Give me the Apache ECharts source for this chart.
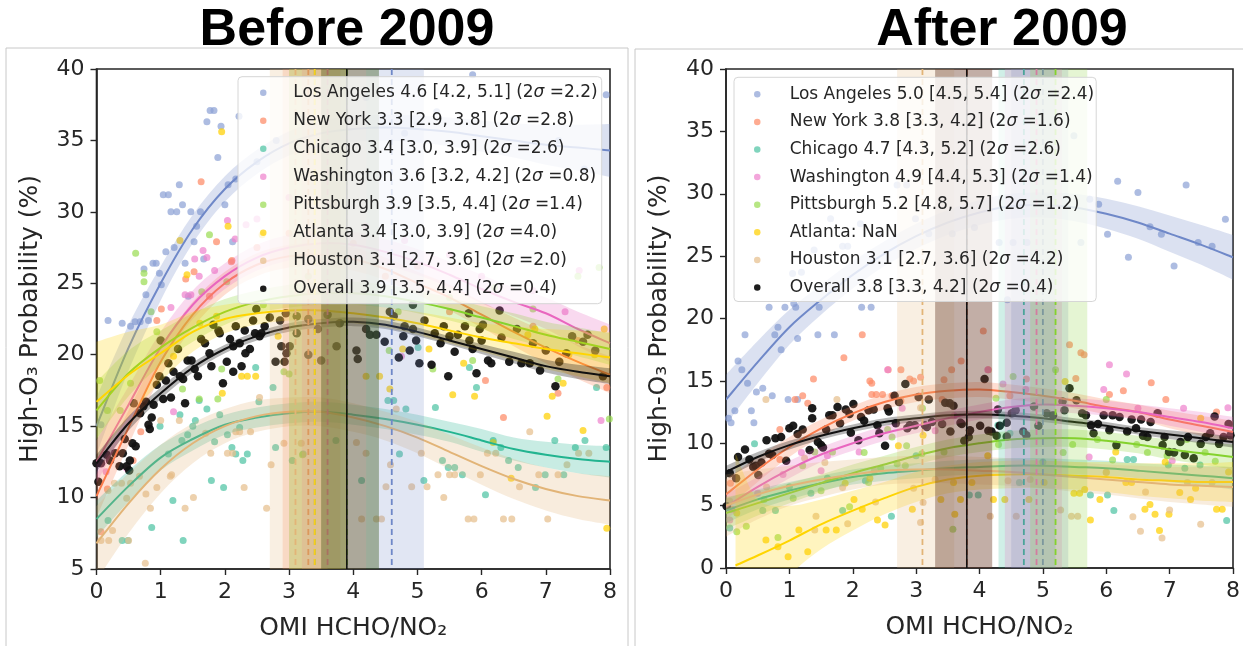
<!DOCTYPE html>
<html>
<head>
<meta charset="utf-8">
<script src="https://cdn.jsdelivr.net/npm/echarts@6/dist/echarts.min.js"></script>
<style>
  html, body { margin: 0; padding: 0; background: #fff; }
  #chart { width: 1243px; height: 646px; }
</style>
</head>
<body>
<div id="chart"></div>
<script>
// ---------- shared settings ----------
const CITIES = ['Los Angeles', 'New York', 'Chicago', 'Washington', 'Pittsburgh', 'Atlanta', 'Houston', 'Overall'];
const POINT_COLORS = ['#8ea2d6', '#fd8a66', '#4fc4a3', '#ee84cd', '#9bdc55', '#ffd000', '#e6bf8e', '#111111'];
const LINE_COLORS  = ['#6f88c8', '#fc7c4c', '#22b490', '#e966bf', '#84d22d', '#ffd500', '#e2b477', '#111111'];
const X_TICKS = [0, 1, 2, 3, 4, 5, 6, 7, 8];
const Y_TICKS_LEFT = [5, 10, 15, 20, 25, 30, 35, 40];
const Y_TICKS_RIGHT = [0, 5, 10, 15, 20, 25, 30, 35, 40];
const PANEL_TITLES = ['Before 2009', 'After 2009'];

// x positions of the fitted curves
const X_GRID = [0, 0.5, 1, 1.5, 2, 2.5, 3, 3.5, 4, 4.5, 5, 5.5, 6, 6.5, 7, 7.5, 8];
const X_GRID_ATL_R = [0.15, 0.5, 1, 1.5, 2, 2.5, 3, 3.5, 4, 4.5, 5, 5.5, 6, 6.5, 7, 7.5, 8];

// ---------- Before 2009: peak ratio, 95% range, 2 sigma ----------
const PEAK_L = [4.6, 3.3, 3.4, 3.6, 3.9, 3.4, 3.1, 3.9];
const LO_L   = [4.2, 2.9, 3.0, 3.2, 3.5, 3.0, 2.7, 3.5];
const HI_L   = [5.1, 3.8, 3.9, 4.2, 4.4, 3.9, 3.6, 4.4];
const SIG_L  = [2.2, 2.8, 2.6, 0.8, 1.4, 4.0, 2.0, 0.4];

// ---------- After 2009 ----------
const PEAK_R = [5.0, 3.8, 4.7, 4.9, 5.2, null, 3.1, 3.8];
const LO_R   = [4.5, 3.3, 4.3, 4.4, 4.8, null, 2.7, 3.3];
const HI_R   = [5.4, 4.2, 5.2, 5.3, 5.7, null, 3.6, 4.2];
const SIG_R  = [2.4, 1.6, 2.6, 1.4, 1.2, null, 4.2, 0.4];

// ---------- fitted curves (Before 2009) ----------
const LA_L_FIT = [15.0, 20.5, 25.0, 28.8, 31.6, 33.5, 34.8, 35.5, 35.8, 35.9, 35.8, 35.6, 35.3, 35.0, 34.7, 34.5, 34.3];
const NY_L_FIT = [10.1, 14.9, 19.5, 22.8, 25.0, 26.3, 26.9, 27.0, 26.7, 26.0, 25.0, 24.0, 22.8, 21.6, 20.5, 19.5, 18.6];
const CH_L_FIT = [8.5, 10.8, 12.8, 14.1, 15.1, 15.6, 15.9, 16.0, 15.8, 15.5, 15.1, 14.6, 14.0, 13.4, 13.0, 12.7, 12.5];
const WA_L_FIT = [12.5, 16.5, 20.5, 23.5, 25.5, 26.8, 27.5, 27.8, 27.7, 27.2, 26.5, 25.6, 24.6, 23.7, 22.9, 21.8, 20.8];
const PI_L_FIT = [16.1, 18.7, 20.5, 21.9, 23.0, 23.7, 24.1, 24.3, 24.3, 24.1, 23.7, 23.2, 22.6, 22.0, 21.4, 20.9, 20.4];
const AT_L_FIT = [16.7, 18.6, 20.1, 21.6, 22.5, 22.9, 23.1, 23.1, 22.9, 22.6, 22.2, 21.7, 21.2, 20.8, 20.4, 20.1, 19.8];
const HO_L_FIT = [6.8, 9.6, 12.0, 13.8, 15.0, 15.7, 16.0, 16.0, 15.6, 15.0, 14.2, 13.2, 12.2, 11.3, 10.6, 10.1, 9.8];
const OV_L_FIT = [12.4, 15.2, 17.3, 19.1, 20.4, 21.3, 21.9, 22.2, 22.3, 22.1, 21.6, 21.0, 20.4, 19.8, 19.2, 18.8, 18.5];

// half widths of the confidence bands (Before 2009)
const LA_L_CI = [2.0, 1.6, 1.2, 1.0, 0.9, 0.85, 0.85, 0.9, 0.9, 0.9, 0.95, 1.0, 1.1, 1.2, 1.4, 1.6, 1.85];
const NY_L_CI = [1.5, 1.2, 1.0, 0.9, 0.8, 0.8, 0.8, 0.8, 0.8, 0.8, 0.8, 0.9, 0.9, 1.0, 1.1, 1.2, 1.3];
const CH_L_CI = [1.3, 1.1, 0.9, 0.8, 0.7, 0.7, 0.7, 0.7, 0.7, 0.7, 0.7, 0.7, 0.8, 0.8, 0.9, 1.0, 1.1];
const WA_L_CI = [1.5, 1.3, 1.1, 1.0, 0.9, 0.9, 0.9, 0.9, 0.9, 0.9, 0.9, 0.9, 1.0, 1.0, 1.1, 1.2, 1.3];
const PI_L_CI = [2.0, 1.6, 1.2, 1.0, 0.9, 0.8, 0.8, 0.8, 0.8, 0.8, 0.8, 0.8, 0.8, 0.9, 0.9, 1.0, 1.1];
const AT_L_CI = [4.2, 3.0, 2.0, 1.4, 1.0, 0.8, 0.7, 0.7, 0.7, 0.7, 0.8, 0.9, 1.0, 1.2, 1.4, 1.6, 1.8];
const HO_L_CI = [2.6, 2.1, 1.7, 1.4, 1.2, 1.1, 1.0, 1.0, 1.0, 1.0, 1.1, 1.2, 1.3, 1.4, 1.5, 1.6, 1.7];
const OV_L_CI = [0.6, 0.5, 0.4, 0.35, 0.3, 0.3, 0.3, 0.3, 0.3, 0.3, 0.3, 0.3, 0.35, 0.4, 0.45, 0.5, 0.55];

// ---------- fitted curves (After 2009) ----------
const LA_R_FIT = [13.5, 16.5, 19.3, 21.5, 23.5, 25.2, 26.6, 27.7, 28.5, 29.0, 29.1, 28.9, 28.4, 27.7, 26.8, 25.9, 24.9];
const NY_R_FIT = [5.9, 7.9, 9.7, 11.2, 12.4, 13.3, 13.9, 14.2, 14.3, 14.1, 13.8, 13.4, 12.9, 12.5, 11.9, 11.4, 10.9];
const CH_R_FIT = [4.6, 5.5, 6.2, 6.8, 7.3, 7.6, 7.8, 8.0, 8.1, 8.2, 8.2, 8.1, 8.0, 7.8, 7.6, 7.4, 7.2];
const WA_R_FIT = [4.9, 6.5, 7.9, 9.1, 10.0, 10.8, 11.4, 12.0, 12.5, 12.9, 13.1, 13.0, 12.8, 12.5, 12.1, 11.7, 11.2];
const PI_R_FIT = [4.4, 5.2, 6.0, 6.8, 7.6, 8.3, 9.0, 9.6, 10.0, 10.3, 10.4, 10.4, 10.2, 9.9, 9.5, 9.2, 8.9];
const AT_R_FIT = [0.2, 1.0, 2.2, 3.5, 4.6, 5.6, 6.5, 7.1, 7.4, 7.5, 7.5, 7.4, 7.3, 7.1, 7.0, 6.9, 6.9];
const HO_R_FIT = [5.0, 5.9, 6.6, 7.1, 7.5, 7.8, 7.9, 7.9, 7.8, 7.7, 7.5, 7.3, 7.1, 6.9, 6.7, 6.6, 6.5];
const OV_R_FIT = [7.7, 8.9, 9.85, 10.6, 11.2, 11.7, 12.0, 12.25, 12.3, 12.2, 12.0, 11.7, 11.4, 11.0, 10.7, 10.4, 10.1];

const LA_R_CI = [2.0, 1.7, 1.4, 1.2, 1.1, 1.0, 1.0, 1.0, 1.0, 1.0, 1.0, 1.1, 1.2, 1.3, 1.45, 1.6, 1.8];
const NY_R_CI = [1.2, 1.0, 0.8, 0.7, 0.6, 0.6, 0.6, 0.6, 0.6, 0.6, 0.6, 0.6, 0.6, 0.6, 0.7, 0.8, 0.9];
const CH_R_CI = [1.0, 0.8, 0.7, 0.6, 0.6, 0.6, 0.6, 0.6, 0.6, 0.6, 0.6, 0.6, 0.6, 0.6, 0.7, 0.8, 0.9];
const WA_R_CI = [1.0, 0.8, 0.7, 0.6, 0.6, 0.6, 0.6, 0.6, 0.6, 0.6, 0.6, 0.6, 0.6, 0.6, 0.7, 0.8, 0.9];
const PI_R_CI = [1.3, 1.0, 0.8, 0.7, 0.7, 0.7, 0.7, 0.7, 0.7, 0.7, 0.7, 0.7, 0.7, 0.7, 0.8, 0.9, 1.0];
const AT_R_CI = [9.0, 4.5, 2.8, 2.0, 1.6, 1.3, 1.2, 1.1, 1.1, 1.1, 1.1, 1.1, 1.2, 1.3, 1.4, 1.5, 1.6];
const HO_R_CI = [2.5, 2.0, 1.6, 1.4, 1.2, 1.1, 1.1, 1.1, 1.1, 1.1, 1.1, 1.2, 1.2, 1.3, 1.4, 1.5, 1.6];
const OV_R_CI = [0.5, 0.4, 0.35, 0.3, 0.3, 0.3, 0.3, 0.3, 0.3, 0.3, 0.3, 0.3, 0.3, 0.3, 0.35, 0.4, 0.45];

// ---------- observations (Before 2009): [HCHO/NO2, probability %] ----------
const LA_L_PTS = [[0.07,15.1],[0.18,22.4],[0.4,22.2],[0.53,22.0],[0.6,22.3],[0.68,22.3],[0.81,22.4],[0.74,26.0],[0.77,24.2],[0.88,26.4],[0.93,26.4],[0.98,25.7],[1.01,24.9],[1.04,31.2],[1.12,31.2],[1.08,27.2],[1.16,30.0],[1.25,30.0],[1.21,27.5],[1.29,31.9],[1.34,30.5],[1.38,26.4],[1.43,24.1],[1.47,30.0],[1.52,27.9],[1.56,29.0],[1.62,30.0],[1.67,26.7],[1.72,36.3],[1.77,37.1],[1.83,37.1],[1.89,33.8],[1.94,36.0],[2.0,30.5],[2.05,31.9],[2.12,27.9],[2.17,32.3],[2.22,36.7],[2.5,33.5],[2.8,35.0],[3.2,36.5],[3.5,34.5],[4.2,38.0],[4.8,35.5],[5.3,37.0],[5.86,39.6],[6.5,36.5],[7.2,35.0],[7.6,33.0],[7.94,38.2]];
const NY_L_PTS = [[0.07,7.6],[0.17,10.6],[0.57,12.6],[0.69,14.6],[0.94,22.4],[1.01,23.2],[1.39,25.3],[1.52,25.8],[1.63,32.1],[1.76,24.1],[1.87,27.9],[2.1,26.5],[2.11,26.6],[2.5,27.5],[3.0,28.5],[3.5,26.5],[4.0,27.8],[4.5,25.5],[5.0,26.2],[5.5,23.0],[6.06,18.2],[6.34,15.6],[6.8,22.0],[7.19,17.3],[7.5,21.0],[7.95,17.7]];
const CH_L_PTS = [[0.18,8.4],[0.4,7.0],[0.49,7.0],[0.86,7.9],[0.99,15.0],[1.12,13.05],[1.19,9.8],[1.3,15.8],[1.33,14.0],[1.35,7.0],[1.42,14.4],[1.5,15.0],[1.54,15.4],[1.6,16.8],[1.72,16.2],[1.79,11.2],[1.84,13.9],[1.92,15.8],[1.98,10.7],[2.04,14.4],[2.11,13.5],[2.17,13.05],[2.23,14.9],[2.28,12.6],[2.35,13.05],[2.48,19.1],[2.53,16.7],[2.75,17.7],[2.79,13.5],[3.05,12.6],[3.22,13.05],[3.73,14.0],[4.13,11.2],[4.54,16.8],[4.63,16.8],[4.72,13.05],[4.82,16.2],[5.01,20.5],[5.1,11.2],[5.28,16.3],[5.39,12.6],[5.48,12.1],[5.58,12.1],[5.7,11.6],[5.81,19.1],[5.92,17.7],[6.06,10.2],[6.18,14.0],[6.3,13.5],[6.42,12.6],[6.57,12.1],[6.84,10.7],[6.99,11.6],[7.14,14.0],[7.28,11.6],[7.46,13.5],[7.61,14.0],[7.79,17.7],[7.94,13.5]];
const WA_L_PTS = [[0.15,11.8],[0.47,12.05],[1.16,23.3],[1.2,16.0],[1.38,24.2],[1.47,24.2],[1.53,26.7],[1.6,25.5],[1.66,27.3],[1.72,26.8],[1.84,25.9],[2.04,29.4],[2.16,28.1],[2.33,29.1],[2.5,29.5],[3.0,31.0],[3.3,28.5],[3.7,30.5],[4.2,29.0],[4.75,19.9],[4.8,28.0],[5.5,27.0],[6.0,25.5],[6.8,24.5],[7.3,23.0],[7.52,25.9],[7.86,15.4]];
const PI_L_PTS = [[0.05,18.2],[0.17,16.1],[0.37,16.1],[0.53,18.0],[0.61,27.1],[0.74,25.7],[0.74,25.1],[0.85,23.0],[0.94,21.6],[1.34,17.6],[1.6,16.9],[1.64,24.4],[1.76,28.4],[1.89,16.9],[1.95,19.0],[2.03,25.1],[2.6,23.5],[2.92,18.8],[3.0,18.65],[3.21,13.0],[3.3,25.5],[3.8,24.8],[4.56,20.3],[4.7,23.0],[5.24,19.0],[5.5,24.0],[5.86,19.6],[6.2,24.7],[6.8,23.2],[7.19,18.3],[7.5,25.5],[7.83,26.1],[7.99,15.5]];
const AT_L_PTS = [[1.2,19.9],[1.3,28.0],[1.41,25.6],[1.61,22.2],[1.87,22.7],[1.95,35.6],[1.96,17.3],[2.05,29.0],[2.26,18.5],[2.35,18.5],[2.48,18.5],[2.58,28.4],[2.83,21.3],[2.92,19.5],[4.2,18.5],[4.41,18.5],[4.57,17.6],[4.77,20.4],[5.18,20.4],[5.55,17.2],[5.72,19.4],[5.89,17.1],[6.18,13.85],[6.46,11.35],[6.72,21.4],[6.83,21.8],[7.02,15.7],[7.1,17.1],[7.27,18.0],[7.36,20.0],[7.58,14.7],[7.76,20.0],[7.91,21.8],[7.95,7.85]];
const HO_L_PTS = [[0.07,7.0],[0.18,10.5],[0.19,7.0],[0.25,7.7],[0.28,11.0],[0.39,11.0],[0.47,9.95],[0.5,7.0],[0.53,11.0],[0.67,11.5],[0.76,5.4],[0.77,10.25],[0.84,9.25],[0.94,10.7],[1.0,15.4],[1.15,11.5],[1.17,11.6],[1.29,15.4],[1.38,9.25],[1.51,10.0],[1.7,14.5],[1.78,13.1],[2.04,13.1],[2.12,13.1],[2.17,14.6],[2.23,14.6],[2.3,10.7],[2.4,14.6],[2.54,17.0],[2.65,9.25],[2.72,12.3],[2.92,13.8],[3.19,13.8],[4.05,13.85],[4.13,8.5],[4.2,13.1],[4.36,8.5],[4.44,8.5],[4.51,10.75],[4.58,12.3],[4.67,16.2],[4.91,10.75],[5.06,13.1],[5.15,10.75],[5.32,11.6],[5.41,10.0],[5.5,11.6],[5.58,11.6],[5.79,8.5],[5.88,8.5],[5.98,11.6],[6.09,13.1],[6.22,13.1],[6.34,8.5],[6.47,8.5],[6.59,10.75],[6.75,14.6],[6.89,11.6],[7.03,8.5],[7.19,11.6],[7.33,12.3],[7.51,13.1],[7.67,13.1]];
const OV_L_PTS = [[0.03,11.1],[0.0,12.4],[0.07,12.4],[0.16,13.0],[0.21,12.6],[0.29,13.1],[0.36,12.2],[0.41,13.1],[0.44,14.1],[0.47,12.2],[0.51,11.9],[0.52,12.6],[0.56,13.8],[0.61,13.6],[0.58,16.6],[0.68,15.9],[0.73,16.4],[0.77,16.7],[0.81,15.1],[0.83,14.8],[0.86,15.6],[0.89,16.5],[0.94,17.9],[1.0,21.0],[0.98,18.5],[1.04,16.9],[1.08,18.2],[1.12,19.4],[1.16,17.0],[1.2,18.8],[1.27,20.4],[1.3,18.5],[1.35,18.3],[1.38,16.6],[1.42,19.6],[1.48,19.6],[1.53,19.0],[1.58,18.5],[1.63,21.1],[1.69,20.8],[1.76,20.1],[1.79,19.2],[1.82,22.1],[1.9,21.7],[1.92,21.5],[1.97,18.0],[2.03,19.5],[2.08,21.1],[2.13,20.6],[2.13,18.8],[2.17,22.0],[2.23,20.8],[2.26,19.2],[2.31,21.7],[2.32,20.1],[2.39,20.4],[2.44,22.4],[2.47,21.5],[2.49,23.2],[2.54,21.3],[2.57,21.5],[2.62,22.0],[2.7,22.6],[2.79,19.5],[2.86,22.4],[2.88,20.6],[2.93,19.5],[2.95,22.9],[2.96,20.1],[3.01,20.6],[3.12,21.5],[3.12,22.7],[3.3,22.5],[3.3,20.0],[3.45,21.8],[3.5,19.6],[3.6,22.8],[3.74,20.6],[3.79,22.2],[4.05,20.3],[4.07,19.7],[4.2,21.8],[4.26,21.4],[4.36,21.4],[4.49,20.9],[4.57,23.0],[4.63,22.7],[4.71,19.8],[4.78,21.3],[4.8,22.0],[4.88,20.3],[4.93,21.8],[4.93,23.5],[4.98,21.0],[5.03,19.4],[5.11,22.4],[5.22,19.3],[5.27,21.5],[5.36,20.8],[5.41,22.0],[5.48,18.5],[5.5,21.3],[5.58,20.2],[5.63,21.4],[5.74,22.0],[5.8,22.9],[5.81,21.0],[5.86,20.4],[5.92,18.7],[5.97,21.8],[6.0,21.0],[6.02,22.1],[6.1,19.6],[6.15,19.4],[6.28,23.1],[6.31,21.2],[6.43,19.5],[6.55,21.8],[6.62,19.4],[6.75,19.4],[6.8,20.8],[6.91,18.9],[7.0,20.3],[7.15,17.8],[7.21,19.5],[7.32,20.1],[7.41,21.3],[7.58,20.9],[7.65,21.4],[7.77,20.3],[7.89,18.5]];

// ---------- observations (After 2009) ----------
const LA_R_PTS = [[0.04,12.0],[0.08,11.65],[0.14,12.6],[0.19,16.6],[0.25,15.9],[0.3,18.7],[0.34,14.8],[0.4,12.6],[0.44,11.65],[0.48,14.1],[0.58,14.4],[0.68,20.9],[0.73,13.8],[0.77,18.7],[0.82,19.3],[0.87,17.5],[0.93,20.9],[0.98,13.5],[1.05,23.6],[1.07,21.2],[1.1,20.9],[1.13,13.5],[1.13,18.4],[1.19,23.7],[1.39,25.5],[1.45,18.7],[1.47,20.9],[1.65,28.0],[1.71,18.7],[1.84,25.8],[1.92,25.8],[2.12,27.6],[2.14,20.9],[2.29,20.9],[2.42,26.8],[2.7,30.7],[2.85,30.7],[2.99,28.0],[3.2,26.8],[3.57,26.8],[3.92,27.3],[4.31,26.1],[4.44,21.5],[4.53,26.1],[4.75,26.1],[5.49,34.65],[5.6,26.1],[5.74,29.55],[5.88,29.15],[6.02,26.75],[6.18,31.0],[6.35,24.9],[6.5,30.1],[6.69,27.35],[6.87,26.75],[7.07,24.2],[7.26,30.7],[7.45,26.1],[7.67,25.8],[7.88,27.95]];
const NY_R_PTS = [[0.07,6.8],[0.09,4.7],[0.85,11.1],[0.85,8.7],[1.09,13.5],[1.21,13.8],[1.29,13.2],[1.38,15.15],[1.86,16.85],[2.15,18.7],[2.27,15.0],[2.3,14.8],[2.3,13.9],[2.37,13.9],[2.47,13.9],[2.56,15.9],[2.62,13.8],[2.76,15.9],[2.76,13.4],[2.9,15.15],[2.96,15.0],[3.07,15.3],[3.41,13.5],[3.44,15.1],[3.56,15.9],[3.71,16.6],[4.06,19.0],[4.14,15.9],[4.48,13.8],[4.74,15.15],[5.42,17.9],[5.52,15.2],[5.6,17.25],[5.65,17.1],[6.05,13.9],[6.27,14.2],[6.71,14.85],[6.94,13.5],[7.74,12.5]];
const CH_R_PTS = [[0.06,3.2],[0.45,9.95],[0.58,4.6],[0.78,4.6],[1.0,6.5],[1.34,6.0],[1.6,7.2],[1.84,4.6],[2.2,7.0],[2.61,4.15],[3.0,9.0],[3.84,5.85],[3.98,5.85],[4.29,11.45],[4.48,10.8],[4.63,6.85],[5.0,8.5],[5.75,5.85],[6.02,5.85],[6.12,4.6],[6.33,8.7],[6.43,8.7],[6.98,8.25],[7.24,8.0],[7.48,8.25],[7.9,3.8]];
const WA_R_PTS = [[0.06,3.85],[0.5,6.0],[0.9,7.5],[1.19,9.25],[1.5,7.8],[1.6,9.0],[2.1,9.3],[2.55,15.9],[2.78,12.8],[3.3,11.0],[3.6,12.2],[4.13,15.9],[4.37,14.75],[4.73,14.3],[5.73,8.9],[5.96,14.3],[6.05,16.3],[6.32,15.55],[6.5,12.8],[7.04,8.6],[7.22,12.8],[7.92,12.85]];
const PI_R_PTS = [[0.17,2.9],[0.32,3.35],[0.6,5.5],[0.82,2.45],[1.06,5.6],[1.21,8.2],[1.4,9.3],[1.5,6.2],[1.68,9.3],[1.95,4.9],[2.18,9.25],[2.25,6.85],[2.44,8.0],[2.55,11.1],[2.62,10.5],[2.7,8.35],[2.83,8.2],[2.85,9.8],[3.09,9.15],[3.1,12.8],[3.44,9.3],[3.58,3.1],[4.26,13.6],[4.3,9.9],[4.53,15.35],[5.2,15.9],[5.32,9.25],[5.47,9.9],[5.86,10.3],[6.0,13.5],[6.1,8.65],[6.48,9.9],[6.65,9.25],[6.96,9.0],[7.27,10.3],[7.56,9.25],[7.72,8.55]];
const AT_R_PTS = [[0.17,4.4],[0.63,2.25],[0.82,1.7],[0.98,0.9],[1.15,3.05],[1.29,1.3],[1.58,3.05],[1.74,3.05],[1.88,6.8],[2.02,5.5],[2.15,4.7],[2.27,7.2],[2.39,3.85],[2.51,3.45],[2.72,9.8],[2.94,4.7],[3.11,10.65],[3.39,5.5],[3.59,6.85],[3.61,4.3],[3.7,5.5],[3.88,6.85],[4.13,9.0],[4.22,5.5],[4.4,5.5],[4.78,5.5],[5.02,6.85],[5.35,14.95],[5.49,6.0],[5.58,6.0],[5.66,6.3],[5.75,3.85],[5.9,5.5],[6.0,7.65],[6.15,9.3],[6.31,6.85],[6.4,6.85],[6.61,4.7],[6.69,5.1],[6.77,4.3],[6.84,3.0],[6.93,8.5],[6.99,4.3],[7.16,6.05],[7.33,5.5],[7.41,6.4],[7.49,12.0],[7.74,4.7],[7.83,4.7],[7.93,7.7]];
const HO_R_PTS = [[0.06,5.35],[0.63,13.5],[0.64,6.5],[1.24,8.8],[1.4,3.05],[1.42,4.15],[1.56,8.45],[1.75,13.5],[1.84,6.45],[1.92,3.55],[2.34,7.8],[2.36,5.3],[2.96,6.4],[3.07,3.65],[3.07,12.85],[3.11,5.25],[3.3,7.1],[4.17,4.15],[4.45,7.0],[4.58,4.15],[4.8,7.1],[5.28,4.65],[5.45,4.15],[5.55,4.15],[6.0,7.7],[6.42,4.1],[6.54,2.95],[6.62,6.1],[6.88,2.4],[7.0,4.65],[7.28,6.85],[7.49,3.5],[7.67,6.85]];
const OV_R_PTS = [[0.01,4.95],[0.06,7.6],[0.16,7.2],[0.19,8.9],[0.3,9.5],[0.37,8.7],[0.43,8.1],[0.47,8.2],[0.51,7.45],[0.56,8.45],[0.64,10.25],[0.68,9.15],[0.73,9.05],[0.78,10.4],[0.87,10.5],[0.95,8.6],[1.0,11.2],[1.06,11.4],[1.13,10.75],[1.21,11.1],[1.32,9.45],[1.36,12.0],[1.36,12.8],[1.45,10.1],[1.5,9.85],[1.53,9.65],[1.58,11.1],[1.63,12.25],[1.68,12.25],[1.76,12.9],[1.8,11.6],[1.89,12.7],[1.95,12.35],[1.97,10.85],[2.01,13.15],[2.09,10.25],[2.13,12.1],[2.18,11.8],[2.25,12.65],[2.33,12.7],[2.39,11.45],[2.42,10.8],[2.51,9.8],[2.55,12.8],[2.57,12.55],[2.66,13.8],[2.68,11.6],[2.73,13.3],[2.83,14.75],[2.86,11.2],[2.9,11.45],[2.98,11.45],[3.04,13.7],[3.14,11.45],[3.17,11.3],[3.2,13.5],[3.25,11.7],[3.41,11.55],[3.46,13.25],[3.53,13.2],[3.54,10.95],[3.59,13.0],[3.7,11.65],[3.72,11.55],[3.76,10.2],[3.83,10.5],[3.85,11.05],[4.01,11.4],[4.08,15.15],[4.14,11.0],[4.19,10.95],[4.27,10.6],[4.29,12.7],[4.32,11.4],[4.43,11.65],[4.43,10.55],[4.51,12.4],[4.57,12.65],[4.69,10.95],[4.74,10.65],[4.86,12.95],[4.93,11.4],[5.06,12.4],[5.16,12.25],[5.31,13.35],[5.34,12.65],[5.42,14.4],[5.53,13.45],[5.62,12.4],[5.68,12.25],[5.76,11.45],[5.8,10.8],[5.87,11.55],[5.96,12.25],[6.05,11.05],[6.1,12.25],[6.16,9.85],[6.21,12.1],[6.33,10.95],[6.4,11.9],[6.47,11.2],[6.55,11.9],[6.58,10.6],[6.65,10.5],[6.7,11.7],[6.81,12.4],[6.89,9.85],[6.92,10.5],[6.99,9.3],[7.07,9.25],[7.17,10.1],[7.24,9.05],[7.29,10.5],[7.38,8.8],[7.49,9.95],[7.57,10.5],[7.64,10.8],[7.71,12.15],[7.78,9.95],[7.85,10.5],[7.93,11.55],[7.96,10.65]];

// ---------- assemble panels ----------
const FONT = 'DejaVu Sans';
const INK = '#262626';

const panels = [
  {
    pts: [LA_L_PTS, NY_L_PTS, CH_L_PTS, WA_L_PTS, PI_L_PTS, AT_L_PTS, HO_L_PTS, OV_L_PTS],
    fit: [LA_L_FIT, NY_L_FIT, CH_L_FIT, WA_L_FIT, PI_L_FIT, AT_L_FIT, HO_L_FIT, OV_L_FIT],
    ci:  [LA_L_CI, NY_L_CI, CH_L_CI, WA_L_CI, PI_L_CI, AT_L_CI, HO_L_CI, OV_L_CI],
    xs:  [X_GRID, X_GRID, X_GRID, X_GRID, X_GRID, X_GRID, X_GRID, X_GRID],
    peak: PEAK_L, lo: LO_L, hi: HI_L, sig: SIG_L,
    yTicks: Y_TICKS_LEFT,
    grid: { left: 96.5, top: 69, width: 513.5, height: 500 },
    legend: { left: 238, top: 76.7, itemWidth: 50, textPad: 0, gap: 8, pad: [6, 4, 5, 22] }
  },
  {
    pts: [LA_R_PTS, NY_R_PTS, CH_R_PTS, WA_R_PTS, PI_R_PTS, AT_R_PTS, HO_R_PTS, OV_R_PTS],
    fit: [LA_R_FIT, NY_R_FIT, CH_R_FIT, WA_R_FIT, PI_R_FIT, AT_R_FIT, HO_R_FIT, OV_R_FIT],
    ci:  [LA_R_CI, NY_R_CI, CH_R_CI, WA_R_CI, PI_R_CI, AT_R_CI, HO_R_CI, OV_R_CI],
    xs:  [X_GRID, X_GRID, X_GRID, X_GRID, X_GRID, X_GRID_ATL_R, X_GRID, X_GRID],
    peak: PEAK_R, lo: LO_R, hi: HI_R, sig: SIG_R,
    yTicks: Y_TICKS_RIGHT,
    grid: { left: 726, top: 69, width: 510, height: 499 },
    legend: { left: 734, top: 77.3, itemWidth: 45, textPad: 5, gap: 7.6, pad: [7, 2, 4, 20] }
  }
];

function cityLabel(p, i) {
  if (p.peak[i] == null) return CITIES[i] + ': NaN';
  return CITIES[i] + ' ' + p.peak[i].toFixed(1) + ' [' + p.lo[i].toFixed(1) + ', ' + p.hi[i].toFixed(1) +
    '] (2σ =' + p.sig[i].toFixed(1) + ')';
}

// Catmull-Rom spline through pixel points, as SVG path commands
function splineSegs(pts, start) {
  let d = (start ? 'M' : 'L') + pts[0][0].toFixed(2) + ' ' + pts[0][1].toFixed(2);
  for (let k = 0; k < pts.length - 1; k++) {
    const p0 = pts[k - 1] || pts[k], p1 = pts[k], p2 = pts[k + 1], p3 = pts[k + 2] || pts[k + 1];
    const c1 = [p1[0] + (p2[0] - p0[0]) / 6, p1[1] + (p2[1] - p0[1]) / 6];
    const c2 = [p2[0] - (p3[0] - p1[0]) / 6, p2[1] - (p3[1] - p1[1]) / 6];
    d += ' C' + c1[0].toFixed(2) + ' ' + c1[1].toFixed(2) + ' ' + c2[0].toFixed(2) + ' ' + c2[1].toFixed(2) +
      ' ' + p2[0].toFixed(2) + ' ' + p2[1].toFixed(2);
  }
  return d;
}

const grids = [], xAxes = [], yAxes = [], series = [], legends = [];

panels.forEach((p, pi) => {
  const yMin = p.yTicks[0], yMax = p.yTicks[p.yTicks.length - 1];
  grids.push(Object.assign({ show: true, borderColor: INK, borderWidth: 1.6, backgroundColor: 'transparent' }, p.grid));
  xAxes.push({
    type: 'value', gridIndex: pi, min: X_TICKS[0], max: X_TICKS[X_TICKS.length - 1], interval: 1,
    axisLine: { show: true, onZero: false, lineStyle: { color: INK, width: 1.6 } },
    axisTick: { show: true, length: 6, lineStyle: { color: INK, width: 1.4 } },
    axisLabel: { fontFamily: FONT, fontSize: 22, color: INK, margin: 12 },
    splitLine: { show: false },
    name: 'OMI HCHO/NO₂', nameLocation: 'middle', nameGap: 47,
    nameTextStyle: { fontFamily: FONT, fontSize: 25, color: INK }
  });
  yAxes.push({
    type: 'value', gridIndex: pi, min: yMin, max: yMax, interval: 5,
    axisLine: { show: true, onZero: false, lineStyle: { color: INK, width: 1.6 } },
    axisTick: { show: true, length: 6, lineStyle: { color: INK, width: 1.4 } },
    axisLabel: { fontFamily: FONT, fontSize: 22, color: INK, margin: 12 },
    splitLine: { show: false },
    name: 'High-O₃ Probability (%)', nameLocation: 'middle', nameGap: 54,
    nameTextStyle: { fontFamily: FONT, fontSize: 25, color: INK }
  });

  const labels = [];
  CITIES.forEach((c, i) => {
    const label = cityLabel(p, i);
    labels.push(label);
    const isAll = i === 7;
    // observations
    series.push({
      name: label, type: 'scatter', xAxisIndex: pi, yAxisIndex: pi,
      data: p.pts[i], symbol: 'circle', symbolSize: isAll ? 8.5 : 7,
      itemStyle: { color: POINT_COLORS[i], opacity: isAll ? 0.95 : 0.72 },
      z: isAll ? 3 : 2, silent: true
    });
    // fitted curve with its confidence band: rows of [x, fit, lower, upper]
    const xs = p.xs[i], fit = p.fit[i], ci = p.ci[i];
    const rows = xs.map((x, k) => [x, fit[k], fit[k] - ci[k], fit[k] + ci[k]]);
    series.push({
      name: 'fit ' + pi + ' ' + i, type: 'custom', xAxisIndex: pi, yAxisIndex: pi,
      data: rows, encode: { x: 0, y: [1, 2, 3] }, clip: true, z: 4, silent: true,
      renderItem: (params, api) => {
        if (params.dataIndex !== 0) return null;
        const up = rows.map(r => api.coord([r[0], r[3]]));
        const dn = rows.map(r => api.coord([r[0], r[2]])).reverse();
        const mid = rows.map(r => api.coord([r[0], r[1]]));
        return {
          type: 'group',
          children: [
            { type: 'path', shape: { pathData: splineSegs(up, true) + ' ' + splineSegs(dn, false) + ' Z' },
              style: { fill: LINE_COLORS[i], opacity: isAll ? 0.3 : 0.25, stroke: null } },
            { type: 'path', shape: { pathData: splineSegs(mid, true) },
              style: { fill: null, stroke: LINE_COLORS[i], lineWidth: 2 } }
          ]
        };
      }
    });
  });

  // peak markers: shaded range plus dashed line (solid for Overall)
  const spans = [];
  CITIES.forEach((c, i) => {
    if (p.peak[i] != null) spans.push([p.lo[i], p.hi[i], p.peak[i], i]);
  });
  series.push({
    name: 'peaks ' + pi, type: 'custom', xAxisIndex: pi, yAxisIndex: pi, data: spans,
    encode: { x: [0, 1, 2], y: 3 }, clip: true, z: 6, silent: true,
    renderItem: (params, api) => {
      const lo = api.value(0), hi = api.value(1), pk = api.value(2), ci = api.value(3);
      const a = api.coord([lo, yMax]), b = api.coord([hi, yMin]);
      const t = api.coord([pk, yMax]), u = api.coord([pk, yMin]);
      const isAll = ci === 7;
      return {
        type: 'group',
        children: [
          { type: 'rect', shape: { x: a[0], y: a[1], width: b[0] - a[0], height: b[1] - a[1] },
            style: { fill: LINE_COLORS[ci], opacity: isAll ? 0.25 : 0.21 } },
          { type: 'line', shape: { x1: t[0], y1: t[1], x2: u[0], y2: u[1] },
            style: { stroke: LINE_COLORS[ci], lineWidth: isAll ? 1.6 : 1.8, lineDash: isAll ? null : [6, 4] } }
        ]
      };
    }
  });

  const L = p.legend;
  legends.push({
    data: labels, orient: 'vertical', left: L.left, top: L.top,
    itemWidth: L.itemWidth, itemHeight: 6.5, itemGap: L.gap, icon: 'circle',
    padding: L.pad, backgroundColor: 'rgba(255,255,255,0.8)', borderColor: '#d6d6d6', borderWidth: 1,
    borderRadius: 4, selectedMode: false, z: 20,
    textStyle: {
      fontFamily: FONT, fontSize: 17, color: INK, lineHeight: 20, padding: [0, 0, 0, L.textPad],
      rich: { i: { fontFamily: FONT, fontSize: 17, fontStyle: 'italic', color: INK, lineHeight: 20 } }
    },
    formatter: n => n.replace('σ', '{i|σ}')
  });
});

const chart = echarts.init(document.getElementById('chart'), null, { renderer: 'canvas' });
chart.setOption({
  animation: false,
  backgroundColor: '#fff',
  grid: grids, xAxis: xAxes, yAxis: yAxes, series: series, legend: legends,
  graphic: [
    { type: 'rect', shape: { x: 6, y: 48, width: 622, height: 640 }, style: { fill: 'none', stroke: '#c8c8c8', lineWidth: 1 }, z: 0, silent: true },
    { type: 'rect', shape: { x: 635, y: 49, width: 640, height: 640 }, style: { fill: 'none', stroke: '#c8c8c8', lineWidth: 1 }, z: 0, silent: true },
    { type: 'text', x: 347, y: 31, z: 10, silent: true,
      style: { text: PANEL_TITLES[0], font: 'bold 52px "Liberation Sans"', fill: '#000', textAlign: 'center', textVerticalAlign: 'middle', align: 'center', verticalAlign: 'middle' } },
    { type: 'text', x: 1002, y: 31, z: 10, silent: true,
      style: { text: PANEL_TITLES[1], font: 'bold 52px "Liberation Sans"', fill: '#000', textAlign: 'center', textVerticalAlign: 'middle', align: 'center', verticalAlign: 'middle' } }
  ]
});
</script>
</body>
</html>
